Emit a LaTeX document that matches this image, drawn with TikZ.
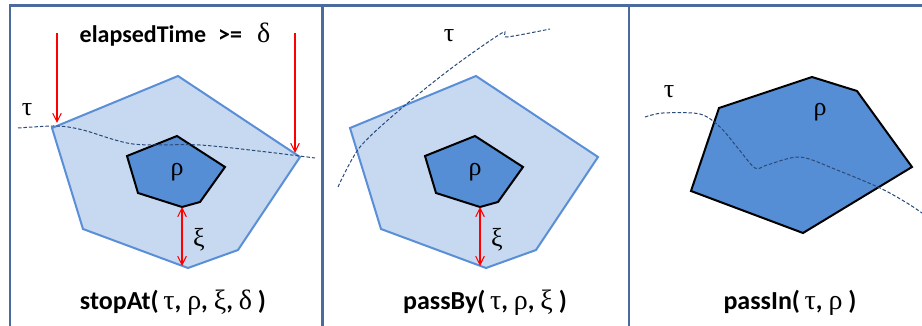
\documentclass[tikz,border=0pt]{standalone}
\usepackage{fontspec}
\setmainfont{Carlito}
\newfontfamily\grk{Liberation Serif}
\usetikzlibrary{arrows.meta}
\definecolor{framex}{HTML}{4A6B9B}
\definecolor{lightx}{HTML}{C6D9F1}
\definecolor{edgex}{HTML}{5A8ED6}
\definecolor{midx}{HTML}{558ED5}
\definecolor{trajx}{HTML}{2A4A78}
\tikzset{
  frm/.style={line width=2.4pt,framex},
  outer/.style={draw=edgex,fill=lightx,line width=2pt},
  core/.style={draw=black,fill=midx,line width=2pt},
  ar/.style={-{Straight Barb[length=3mm,width=3mm]},red,line width=1.1pt},
  dar/.style={{Straight Barb[length=3mm,width=3mm]}-{Straight Barb[length=3mm,width=3mm]},red,line width=1.1pt},
  trj/.style={trajx,line width=1pt,dash pattern=on 3.5pt off 2pt},
  lbl/.style={font=\bfseries\fontsize{24}{26}\selectfont,inner sep=0pt},
  call/.style={font=\bfseries\fontsize{26}{28}\selectfont,inner sep=0pt},
  gk/.style={font=\grk\fontsize{26}{28}\selectfont,inner sep=0pt}
}
\newcommand{\gr}[1]{{\grk\mdseries\fontsize{28}{30}\selectfont #1}}
\begin{document}
\begin{tikzpicture}[x=1pt,y=-1pt]
\useasboundingbox (0,0) rectangle (922,326);
\draw[frm] (10,326)--(10,5.5)--(922,5.5);
\draw[frm] (322.5,5.5)--(322.5,326);
\draw[frm] (629,5.5)--(629,326);
% stopAt
\draw[outer] (52,128)--(178,76)--(300,157)--(238,250)--(188,268)--(83,229)--cycle;
\draw[core] (127,156)--(177,136)--(225,167)--(200,202)--(182,207)--(138,193)--cycle;
\draw[trj] plot[smooth] coordinates {(18,128) (57,126) (83,130) (133,144) (200,145) (267,152) (315,158)};
\node[lbl] (elapsed) at (175,35) {elapsedTime\hspace{12pt}>=\hspace{15pt}\gr{δ}};
\coordinate (a1) at (57,33);
\coordinate (b1) at (57,123);
\coordinate (a2) at (295,33);
\coordinate (b2) at (295,153);
\draw[ar] (a1)--(b1);
\draw[ar] (a2)--(b2);
\node[gk] (tau1) at (27,110) {τ};
\node[gk] (rho1) at (177,172) {ρ};
\coordinate (in1) at (182,207);
\coordinate (out1) at (182,266);
\draw[dar] (in1)--(out1);
\node[gk] (xi1) at (199,240) {ξ};
\node[call] (stopat) at (173,303) {stopAt(\gr{\,τ}, \gr{ρ}, \gr{ξ}, \gr{δ} )};
% passBy
\draw[outer] (350,128)--(476,76)--(598,157)--(536,250)--(486,268)--(381,229)--cycle;
\draw[core] (425,156)--(475,136)--(523,167)--(498,202)--(480,207)--(436,193)--cycle;
\draw[trj] plot[smooth] coordinates {(338,187) (360,147) (403,107) (453,67) (502,33) (507,37) (550,29)};
\node[gk] (tau2) at (449,36) {τ};
\node[gk] (rho2) at (475,172) {ρ};
\coordinate (in2) at (480,207);
\coordinate (out2) at (480,266);
\draw[dar] (in2)--(out2);
\node[gk] (xi2) at (497,240) {ξ};
\node[call] (passby) at (485,303) {passBy(\gr{\,τ}, \gr{ρ}, \gr{ξ} )};
% passIn
\draw[core] (719,108)--(812,77)--(857,91)--(912,167)--(803,233)--(691,191)--cycle;
\draw[trj] plot[smooth] coordinates {(645,117) (663,113) (700,114) (720,127) (737,147) (755,168) (767,165) (800,157) (837,170) (880,188) (907,203) (922,213)};
\node[gk] (tau3) at (669,92) {τ};
\node[gk] (rho3) at (820,112) {ρ};
\node[call] (passin) at (790,303) {passIn(\gr{\,τ}, \gr{ρ} )};
\end{tikzpicture}
\end{document}
